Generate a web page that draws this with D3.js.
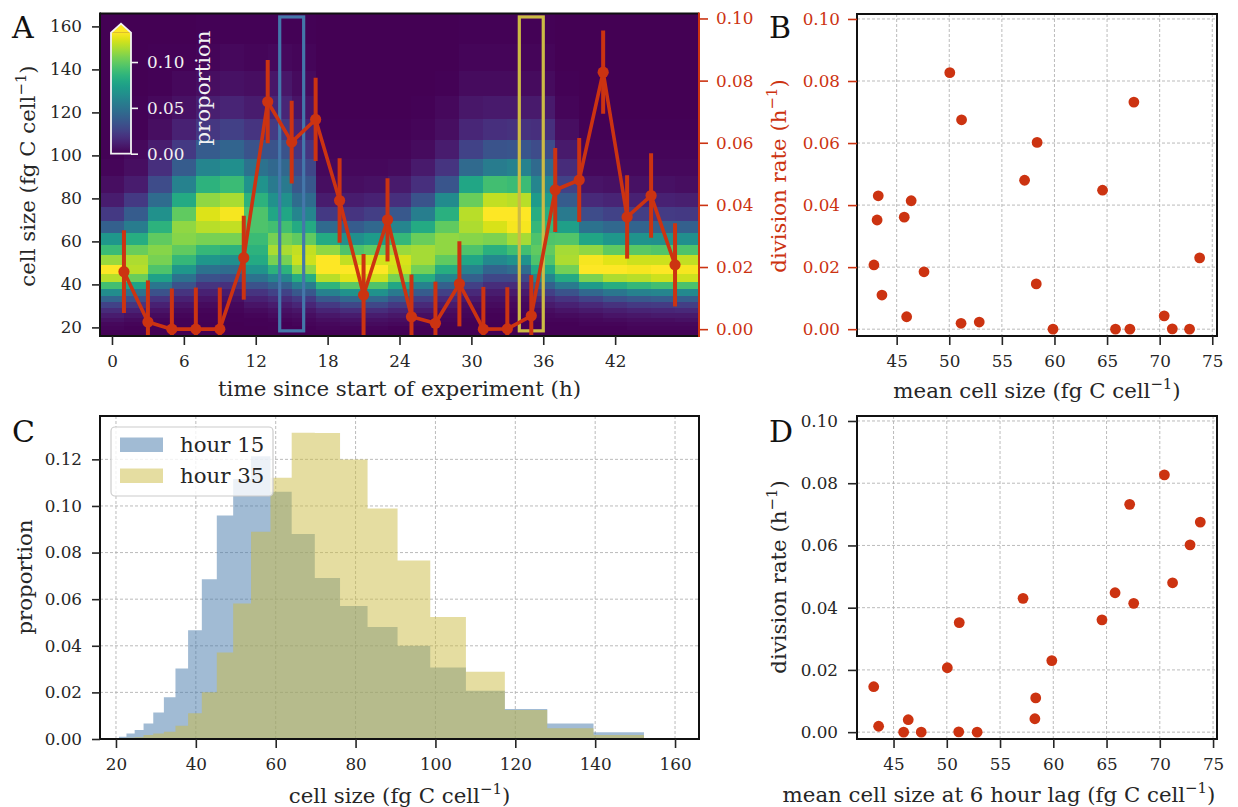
<!DOCTYPE html>
<html>
<head>
<meta charset="utf-8">
<script src="https://cdn.jsdelivr.net/npm/d3@7"></script>
<style>
  body { margin: 0; background: #fff; }
  svg { display: block; }
  text { font-family: "DejaVu Serif", serif; }
</style>
</head>
<body>
<svg id="fig" width="1238" height="807"></svg>
<script>
// ---------------- data ----------------
// sampling times (h) of the division-rate / mean-size series
const hours = [1, 3, 5, 7, 9, 11, 13, 15, 17, 19, 21, 23, 25, 27, 29, 31, 33, 35, 37, 39, 41, 43, 45, 47];
// mean cell size (fg C cell^-1) at each sampling time
const meanSize = [47.6, 52.85, 59.86, 67.17, 72.84, 73.8, 67.55, 58.35, 51.17, 46.38, 43.6, 43.14,
                  45.95, 51.12, 58.27, 65.8, 71.2, 70.43, 64.57, 57.16, 50.05, 45.72, 43.25, 42.84];
// estimated division rate (h^-1) and its error half-width
const divRate = [0.0185, 0.0023, 0.0, 0.0, 0.0, 0.023, 0.0732, 0.0602, 0.0675, 0.0414, 0.011, 0.0352,
                 0.004, 0.0019, 0.0146, 0.0, 0.0001, 0.0043, 0.0448, 0.048, 0.0827, 0.0361, 0.043, 0.0207];
const divErr = [0.0133, 0.0134, 0.0131, 0.0134, 0.0134, 0.0135, 0.0134, 0.0133, 0.0134, 0.0136, 0.0132, 0.0134,
                0.0136, 0.0134, 0.0137, 0.0136, 0.0134, 0.0131, 0.0135, 0.0135, 0.0134, 0.0134, 0.0136, 0.0134];
// lag used in panel D (h) and the sampling step (h)
const lagHours = 6;
const stepHours = 2;

// size-distribution time columns (h) and size-class edges (fg C cell^-1, log2 spaced)
const heatTimes = [0, 2, 4, 6, 8, 10, 12, 14, 16, 18, 20, 22, 24, 26, 28, 30, 32, 34, 36, 38, 40, 42, 44, 46, 48];
const sizeEdges = [16.0, 17.45, 19.03, 20.75, 22.63, 24.68, 26.91, 29.34, 32.0, 34.9, 38.06, 41.5, 45.25, 49.35,
                   53.82, 58.69, 64.0, 69.79, 76.11, 83.0, 90.51, 98.7, 107.63, 117.38, 128.0, 139.58, 152.22, 166.0];
// proportion of cells per size class (per mille), one row per time column, smallest class first
const heatPermille = [
  [0,1,2,3,6,10,16,26,42,64,92,118,134,112,90,70,40,22,10,5,2,1,0,0,0,0,0],
  [0,1,1,2,4,7,12,20,32,50,76,102,118,116,102,82,55,38,22,10,5,3,1,1,0,0,0],
  [0,0,1,1,2,4,7,12,20,33,52,75,95,105,108,100,85,66,46,30,18,10,5,3,1,1,0],
  [0,0,0,1,1,2,4,7,12,20,33,50,70,88,100,108,110,100,80,58,38,22,12,6,3,1,0],
  [0,0,0,0,1,1,2,4,7,12,20,33,50,70,88,105,118,125,110,85,60,38,21,11,5,2,1],
  [0,0,0,0,1,1,2,3,6,10,18,30,46,65,85,105,120,130,115,90,65,42,25,13,6,3,1],
  [0,0,0,1,1,2,4,7,12,20,33,50,68,80,85,90,95,95,85,68,50,34,20,10,5,2,1],
  [0,0,1,1,2,4,6,10,16,26,40,60,85,105,115,105,92,78,66,54,44,34,23,14,8,3,1],
  [0,1,1,2,3,5,8,14,22,36,55,82,110,122,120,100,80,60,46,36,28,20,13,7,4,2,1],
  [0,1,2,3,5,8,13,22,36,58,86,118,138,132,110,80,45,22,10,5,3,2,1,0,0,0,0],
  [1,1,2,4,6,10,17,28,44,68,98,126,134,120,95,65,38,20,10,5,3,2,1,0,0,0,0],
  [1,1,2,4,6,10,17,28,44,67,95,122,132,123,100,72,44,24,12,6,3,2,1,0,0,0,0],
  [0,1,1,3,5,8,13,22,35,54,78,105,122,124,112,88,60,36,18,9,4,2,1,0,0,0,0],
  [0,0,1,2,3,5,9,15,24,38,58,82,104,114,114,102,80,56,34,18,9,4,2,1,0,0,0],
  [0,0,0,1,2,3,5,9,15,25,40,60,82,100,110,110,100,84,63,35,20,10,5,3,1,0,0],
  [0,0,0,0,1,2,3,5,9,15,25,40,58,78,95,108,116,118,102,78,45,26,14,8,4,2,1],
  [0,0,0,0,1,1,2,4,6,10,17,28,42,62,84,106,124,134,120,92,55,34,18,9,4,2,1],
  [0,0,0,0,1,1,2,3,5,9,16,28,46,68,92,114,130,134,118,90,58,35,19,9,4,2,1],
  [0,0,1,1,2,3,5,9,15,25,40,60,80,95,100,95,88,82,72,60,45,30,18,9,4,2,1],
  [0,0,1,1,2,4,7,12,20,34,54,80,104,116,114,96,74,54,38,26,16,9,5,2,1,0,0],
  [0,0,1,2,3,5,9,15,26,44,72,106,134,130,110,78,50,30,15,7,3,2,1,0,0,0,0],
  [0,1,1,2,4,7,11,19,32,52,82,116,134,126,100,70,44,26,13,6,3,2,1,0,0,0,0],
  [0,1,2,3,5,8,13,22,36,58,88,118,130,122,98,68,42,24,12,6,3,2,1,0,0,0,0],
  [1,1,2,3,5,9,14,23,38,60,92,122,132,122,96,66,40,23,12,6,3,2,1,0,0,0,0],
  [1,1,2,3,6,9,15,24,39,62,94,122,130,120,95,65,40,22,11,5,3,2,1,0,0,0,0]
];

// panel C: size distributions at hour 15 and hour 35
const histEdges = [20.75, 22.63, 24.68, 26.91, 29.34, 32.0, 34.9, 38.06, 41.5, 45.25, 49.35, 53.82,
                   58.69, 64.0, 69.79, 76.11, 83.0, 90.51, 98.7, 107.63, 117.38, 128.0, 139.58, 152.22];
const hour15 = [0.001, 0.0024, 0.0039, 0.0067, 0.0114, 0.0179, 0.0303, 0.0467, 0.0686, 0.0959, 0.1116, 0.1213,
                0.1061, 0.088, 0.0691, 0.0571, 0.0481, 0.040, 0.0307, 0.0207, 0.0129, 0.0067, 0.0029];
const hour35 = [0.0002, 0.0005, 0.0007, 0.0017, 0.0024, 0.0031, 0.0057, 0.011, 0.0201, 0.0371, 0.0581, 0.0889,
                0.1121, 0.1314, 0.1313, 0.1199, 0.0989, 0.0766, 0.0524, 0.0289, 0.0124, 0.0046, 0.0017];
const histSeries = [
  { name: "hour 15", values: hour15, color: "#4477aa", span: [14, 16] },
  { name: "hour 35", values: hour35, color: "#ccbb44", span: [34, 36] }
];

// tick values
const ticksA_x = [0, 6, 12, 18, 24, 30, 36, 42];
const ticksA_y = [20, 40, 60, 80, 100, 120, 140, 160];
const ticksRate = [0, 0.02, 0.04, 0.06, 0.08, 0.10];
const ticksMean = [45, 50, 55, 60, 65, 70, 75];
const ticksC_x = [20, 40, 60, 80, 100, 120, 140, 160];
const ticksC_y = [0, 0.02, 0.04, 0.06, 0.08, 0.10, 0.12];
const ticksCbar = [0, 0.05, 0.10];

// ---------------- style ----------------
const TICK_FS = 16.8, LABEL_FS = 21.3, LETTER_FS = 30;
const INK = "#262626", RED = "#cc3311", GRID = "#b3b3b3";
const fmt2 = d3.format(".2f");

const svg = d3.select("#fig");

function styleAxis(g, col) {
  g.select(".domain").remove();
  g.selectAll(".tick line").attr("stroke", col).attr("stroke-width", 1.6);
  g.selectAll(".tick text").attr("fill", col).attr("font-size", TICK_FS);
}

function frame(p, rightCol) {
  const f = svg.append("g").attr("fill", "none").attr("stroke-width", 2);
  f.append("line").attr("x1", p.l).attr("x2", p.r).attr("y1", p.t).attr("y2", p.t).attr("stroke", "#111");
  f.append("line").attr("x1", p.l).attr("x2", p.r).attr("y1", p.b).attr("y2", p.b).attr("stroke", "#111");
  f.append("line").attr("x1", p.l).attr("x2", p.l).attr("y1", p.t - 1).attr("y2", p.b + 1).attr("stroke", "#111");
  f.append("line").attr("x1", p.r).attr("x2", p.r).attr("y1", p.t - 1).attr("y2", p.b + 1).attr("stroke", rightCol || "#111");
}

function grid(p, x, y, xt, yt) {
  const g = svg.append("g").attr("stroke", GRID).attr("stroke-width", 0.9).attr("stroke-dasharray", "3,2");
  xt.forEach(v => g.append("line").attr("x1", x(v)).attr("x2", x(v)).attr("y1", p.t).attr("y2", p.b));
  yt.forEach(v => g.append("line").attr("x1", p.l).attr("x2", p.r).attr("y1", y(v)).attr("y2", y(v)));
}

// text with a superscript part, e.g. "cell size (fg C cell" + "−1" + ")"
function supLabel(x, y, rot, pre, sup, post, col, size, anchor) {
  const t = svg.append("text")
    .attr("transform", `translate(${x},${y}) rotate(${rot})`)
    .attr("text-anchor", anchor || "middle").attr("font-size", size).attr("fill", col);
  t.append("tspan").text(pre);
  if (sup) {
    t.append("tspan").attr("dy", -size * 0.4).attr("font-size", size * 0.7).text(sup);
    t.append("tspan").attr("dy", size * 0.4).text(post);
  }
  return t;
}

function letter(x, y, s) {
  svg.append("text").attr("x", x).attr("y", y).attr("font-size", LETTER_FS).attr("fill", "#111").text(s);
}

function bottomAxis(p, x, ticks, fmt, col) {
  const g = svg.append("g").attr("transform", `translate(0,${p.b})`)
    .call(d3.axisBottom(x).tickValues(ticks).tickFormat(fmt || d3.format("d")).tickSize(9).tickPadding(10));
  styleAxis(g, col || INK);
  return g;
}
function leftAxis(p, y, ticks, fmt, col, size, pad) {
  const g = svg.append("g").attr("transform", `translate(${p.l},0)`)
    .call(d3.axisLeft(y).tickValues(ticks).tickFormat(fmt || d3.format("d")).tickSize(size || 8).tickPadding(pad || 10));
  styleAxis(g, col || INK);
  return g;
}

// ---------------- panel A ----------------
const PA = { l: 100, r: 699, t: 13.5, b: 336 };
const xA = d3.scaleLinear().domain([-1, 49]).range([PA.l, PA.r]);
const yA = d3.scaleLinear().domain([16, 166]).range([PA.b, PA.t]);
const yRateA = d3.scaleLinear().domain([-0.0022, 0.1016]).range([PA.b, PA.t]);
const vmax = 0.132;
const cmap = d3.scaleSequential(d3.interpolateViridis).domain([0, vmax]).clamp(true);

svg.append("defs").append("clipPath").attr("id", "clipA")
  .append("rect").attr("x", PA.l).attr("y", PA.t).attr("width", PA.r - PA.l).attr("height", PA.b - PA.t);

const heat = svg.append("g").attr("clip-path", "url(#clipA)").attr("shape-rendering", "crispEdges");
heatTimes.forEach((tm, c) => {
  heatPermille[c].forEach((v, r) => {
    const x0 = xA(tm - 1), x1 = xA(tm + 1);
    const y0 = yA(sizeEdges[r + 1]), y1 = yA(sizeEdges[r]);
    heat.append("rect").attr("x", x0).attr("y", y0)
      .attr("width", x1 - x0 + 0.6).attr("height", y1 - y0 + 0.6)
      .attr("fill", cmap(v / 1000));
  });
});

// highlighted sampling windows
const over = svg.append("g").attr("clip-path", "url(#clipA)");
histSeries.forEach(s => {
  over.append("rect")
    .attr("x", xA(s.span[0])).attr("y", yA(164.4))
    .attr("width", xA(s.span[1]) - xA(s.span[0])).attr("height", yA(18.4) - yA(164.4))
    .attr("fill", "none").attr("stroke", s.color).attr("stroke-width", 3.2);
});

// division rate with error bars
over.append("path").datum(hours)
  .attr("d", d3.line().x(h => xA(h)).y((h, i) => yRateA(divRate[i])))
  .attr("fill", "none").attr("stroke", RED).attr("stroke-width", 3.6).attr("stroke-linejoin", "round");
over.selectAll(".eb").data(hours).join("line")
  .attr("x1", h => xA(h)).attr("x2", h => xA(h))
  .attr("y1", (h, i) => yRateA(divRate[i] - divErr[i]))
  .attr("y2", (h, i) => yRateA(divRate[i] + divErr[i]))
  .attr("stroke", RED).attr("stroke-width", 4);
over.selectAll(".pt").data(hours).join("circle")
  .attr("cx", h => xA(h)).attr("cy", (h, i) => yRateA(divRate[i])).attr("r", 5.6).attr("fill", RED);

// colour bar inside the panel
const CB = { x: 111, w: 20 };
const yCb = d3.scaleLinear().domain([0, vmax]).range([153.7, 32.7]);
const grad = svg.select("defs").append("linearGradient").attr("id", "cbgrad")
  .attr("x1", 0).attr("y1", 1).attr("x2", 0).attr("y2", 0);
d3.range(0, 1.0001, 0.05).forEach(f => grad.append("stop").attr("offset", f).attr("stop-color", d3.interpolateViridis(f)));
svg.append("rect").attr("x", CB.x).attr("y", yCb(vmax)).attr("width", CB.w).attr("height", yCb(0) - yCb(vmax))
  .attr("fill", "url(#cbgrad)");
const tipY = yCb(vmax) - 9;
svg.append("path")
  .attr("d", `M${CB.x},${yCb(vmax)}L${CB.x + CB.w / 2},${tipY}L${CB.x + CB.w},${yCb(vmax)}Z`)
  .attr("fill", d3.interpolateViridis(1));
svg.append("path")
  .attr("d", `M${CB.x},${yCb(0)}L${CB.x},${yCb(vmax)}L${CB.x + CB.w / 2},${tipY}L${CB.x + CB.w},${yCb(vmax)}L${CB.x + CB.w},${yCb(0)}Z`)
  .attr("fill", "none").attr("stroke", "#f2f2f2").attr("stroke-width", 1.8);
const cbAxis = svg.append("g").attr("transform", `translate(${CB.x + CB.w},0)`)
  .call(d3.axisRight(yCb).tickValues(ticksCbar).tickFormat(fmt2).tickSize(7).tickPadding(9));
styleAxis(cbAxis, "#f2f2f2");
supLabel(210, 88, -90, "proportion", null, null, "#f2f2f2", LABEL_FS);

frame(PA, RED);
bottomAxis(PA, xA, ticksA_x);
leftAxis(PA, yA, ticksA_y);
const rA = svg.append("g").attr("transform", `translate(${PA.r},0)`)
  .call(d3.axisRight(yRateA).tickValues(ticksRate).tickFormat(fmt2).tickSize(9).tickPadding(8));
styleAxis(rA, RED);

supLabel((PA.l + PA.r) / 2, 396, 0, "time since start of experiment (h)", null, null, INK, LABEL_FS);
supLabel(35, 176, -90, "cell size (fg C cell", "−1", ")", INK, LABEL_FS);
letter(12, 38, "A");

// ---------------- panel B ----------------
const PB = { l: 857, r: 1217, t: 14, b: 336 };
const xB = d3.scaleLinear().domain([41.23, 75.45]).range([PB.l, PB.r]);
const yB = d3.scaleLinear().domain([-0.0022, 0.1016]).range([PB.b, PB.t]);
grid(PB, xB, yB, ticksMean, ticksRate);
svg.append("g").selectAll("circle").data(hours).join("circle")
  .attr("cx", (h, i) => xB(meanSize[i])).attr("cy", (h, i) => yB(divRate[i]))
  .attr("r", 5.4).attr("fill", RED);
frame(PB);
bottomAxis(PB, xB, ticksMean);
leftAxis(PB, yB, ticksRate, fmt2, RED, 9, 8);
supLabel((PB.l + PB.r) / 2, 398, 0, "mean cell size (fg C cell", "−1", ")", INK, LABEL_FS);
supLabel(786, 176, -90, "division rate (h", "−1", ")", RED, LABEL_FS);
letter(769, 38, "B");

// ---------------- panel C ----------------
const PC = { l: 100, r: 699, t: 416, b: 739 };
const xC = d3.scaleLinear().domain([16, 166]).range([PC.l, PC.r]);
const yC = d3.scaleLinear().domain([0, 0.1386]).range([PC.b, PC.t]);
grid(PC, xC, yC, ticksC_x, ticksC_y);
const histArea = d3.area().curve(d3.curveStepAfter)
  .x(d => xC(d[0])).y0(yC(0)).y1(d => yC(d[1]));
histSeries.forEach(s => {
  const pts = s.values.map((v, i) => [histEdges[i], v]);
  pts.push([histEdges[histEdges.length - 1], s.values[s.values.length - 1]]);
  svg.append("path").datum(pts).attr("d", histArea).attr("fill", s.color).attr("fill-opacity", 0.5);
});
frame(PC);
bottomAxis(PC, xC, ticksC_x);
leftAxis(PC, yC, ticksC_y, fmt2);
supLabel((PC.l + PC.r) / 2, 803, 0, "cell size (fg C cell", "−1", ")", INK, LABEL_FS);
supLabel(32, 577, -90, "proportion", null, null, INK, LABEL_FS);
letter(12, 442, "C");

// legend
const lg = svg.append("g");
lg.append("rect").attr("x", 111).attr("y", 427).attr("width", 162).attr("height", 69).attr("rx", 4)
  .attr("fill", "#fff").attr("fill-opacity", 0.8).attr("stroke", "#cccccc").attr("stroke-width", 1.2);
histSeries.forEach((s, i) => {
  const yy = 437.5 + i * 31;
  lg.append("rect").attr("x", 120).attr("y", yy).attr("width", 43).attr("height", 14.5)
    .attr("fill", s.color).attr("fill-opacity", 0.5);
  lg.append("text").attr("x", 180).attr("y", yy + 14.5).attr("font-size", LABEL_FS).attr("fill", INK).text(s.name);
});

// ---------------- panel D ----------------
const PD = { l: 857, r: 1217, t: 416, b: 739 };
const xD = d3.scaleLinear().domain([41.57, 75.37]).range([PD.l, PD.r]);
const yD = d3.scaleLinear().domain([-0.0022, 0.1016]).range([PD.b, PD.t]);
grid(PD, xD, yD, ticksMean, ticksRate);
const lagSteps = lagHours / stepHours;
const lagged = hours.slice(lagSteps).map((h, k) => ({ size: meanSize[k], rate: divRate[k + lagSteps] }));
svg.append("g").selectAll("circle").data(lagged).join("circle")
  .attr("cx", d => xD(d.size)).attr("cy", d => yD(d.rate)).attr("r", 5.4).attr("fill", RED);
frame(PD);
bottomAxis(PD, xD, ticksMean);
leftAxis(PD, yD, ticksRate, fmt2, INK, 9, 10);
supLabel(999, 802, 0, "mean cell size at " + lagHours + " hour lag (fg C cell", "−1", ")", INK, LABEL_FS);
supLabel(786, 577, -90, "division rate (h", "−1", ")", INK, LABEL_FS);
letter(769, 442, "D");
</script>
</body>
</html>
